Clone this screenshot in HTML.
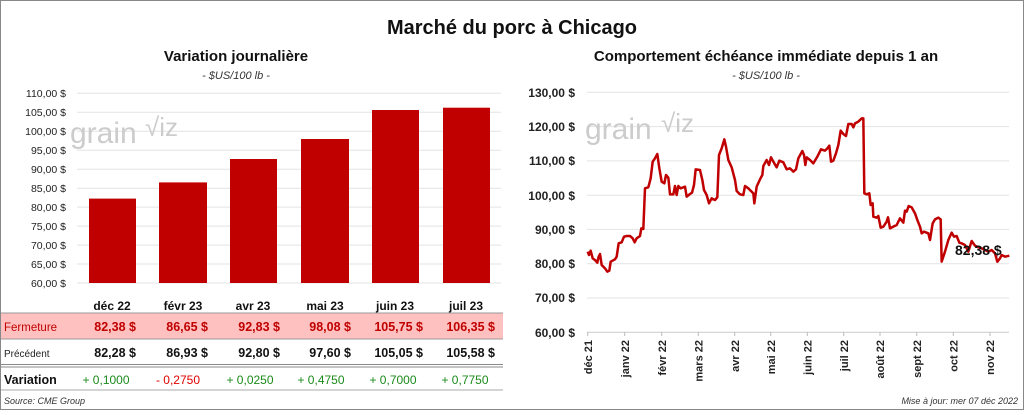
<!DOCTYPE html>
<html><head><meta charset="utf-8"><style>
body{margin:0;width:1024px;height:410px;overflow:hidden;background:#fff;font-family:"Liberation Sans",sans-serif}
</style></head><body>
<svg width="1024" height="410" xmlns="http://www.w3.org/2000/svg" font-family="Liberation Sans, sans-serif">
<rect x="0.5" y="0.5" width="1023" height="409" fill="#fff" stroke="#888"/>
<text x="512" y="34" font-size="20" font-weight="bold" text-anchor="middle" fill="#111">Marché du porc à Chicago</text>
<text x="236" y="61" font-size="15" font-weight="bold" text-anchor="middle" fill="#111">Variation  journalière</text>
<text x="236" y="79" font-size="11" font-style="italic" text-anchor="middle" fill="#333">- $US/100 lb -</text>
<text x="766" y="61" font-size="15" font-weight="bold" text-anchor="middle" fill="#111">Comportement  échéance immédiate depuis 1 an</text>
<text x="766" y="79" font-size="11" font-style="italic" text-anchor="middle" fill="#333">- $US/100 lb -</text>
<!-- left grid -->
<g stroke="#e3e3e3" stroke-width="1">
<line x1="77" x2="501" y1="93.3" y2="93.3"/><line x1="77" x2="501" y1="112.3" y2="112.3"/><line x1="77" x2="501" y1="131.2" y2="131.2"/><line x1="77" x2="501" y1="150.2" y2="150.2"/><line x1="77" x2="501" y1="169.2" y2="169.2"/><line x1="77" x2="501" y1="188.2" y2="188.2"/><line x1="77" x2="501" y1="207.1" y2="207.1"/><line x1="77" x2="501" y1="226.1" y2="226.1"/><line x1="77" x2="501" y1="245.1" y2="245.1"/><line x1="77" x2="501" y1="264" y2="264"/><line x1="77" x2="501" y1="283" y2="283"/>
</g>
<g font-size="10.5" text-anchor="end" fill="#222">
<text x="66" y="97">110,00 $</text><text x="66" y="116">105,00 $</text><text x="66" y="135">100,00 $</text><text x="66" y="154">95,00 $</text><text x="66" y="173">90,00 $</text><text x="66" y="192">85,00 $</text><text x="66" y="211">80,00 $</text><text x="66" y="230">75,00 $</text><text x="66" y="249">70,00 $</text><text x="66" y="268">65,00 $</text><text x="66" y="287">60,00 $</text>
</g>
<text x="70" y="143" font-size="30" fill="#ccc">grain</text><text x="145" y="136" font-size="26" fill="#ccc">√iz</text>
<g fill="#c00000">
<rect x="89" y="198.6" width="47" height="84.4"/><rect x="159" y="182.4" width="48" height="100.6"/><rect x="230" y="159" width="47" height="124"/><rect x="301" y="139" width="48" height="144"/><rect x="372" y="110" width="47" height="173"/><rect x="443" y="107.7" width="47" height="175.3"/>
</g>
<!-- table -->
<g font-size="12" font-weight="bold" text-anchor="middle" fill="#111">
<text x="112" y="310">déc 22</text><text x="183" y="310">févr 23</text><text x="253" y="310">avr 23</text><text x="325" y="310">mai 23</text><text x="395" y="310">juin 23</text><text x="466" y="310">juil 23</text>
</g>
<rect x="1" y="313" width="502" height="26" fill="#ffc0c0"/>
<line x1="1" x2="503" y1="313" y2="313" stroke="#999"/><line x1="1" x2="503" y1="339" y2="339" stroke="#999"/>
<line x1="1" x2="503" y1="364.5" y2="364.5" stroke="#888"/><line x1="1" x2="503" y1="367" y2="367" stroke="#888"/>
<line x1="1" x2="503" y1="390" y2="390" stroke="#aaa"/>
<text x="4" y="331" font-size="11.5" fill="#c00000">Fermeture</text>
<g font-size="12.5" font-weight="bold" text-anchor="end" fill="#c00000">
<text x="136" y="331">82,38  $</text><text x="208" y="331">86,65  $</text><text x="280" y="331">92,83  $</text><text x="351" y="331">98,08  $</text><text x="423" y="331">105,75  $</text><text x="495" y="331">106,35  $</text>
</g>
<text x="4" y="357" font-size="10" fill="#222">Précédent</text>
<g font-size="12.5" font-weight="bold" text-anchor="end" fill="#111">
<text x="136" y="357">82,28  $</text><text x="208" y="357">86,93  $</text><text x="280" y="357">92,80  $</text><text x="351" y="357">97,60  $</text><text x="423" y="357">105,05  $</text><text x="495" y="357">105,58  $</text>
</g>
<text x="4" y="384" font-size="12.5" font-weight="bold" fill="#111">Variation</text>
<g font-size="12" text-anchor="middle" fill="#1a8a1a">
<text x="106" y="384">+ 0,1000</text><text x="178" y="384" fill="#e00000">- 0,2750</text><text x="250" y="384">+ 0,0250</text><text x="321" y="384">+ 0,4750</text><text x="393" y="384">+ 0,7000</text><text x="465" y="384">+ 0,7750</text>
</g>
<text x="4" y="404" font-size="9" font-style="italic" fill="#333">Source: CME Group</text>
<text x="1018" y="404" font-size="9" font-style="italic" fill="#333" text-anchor="end">Mise à jour: mer 07 déc 2022</text>
<!-- right chart -->
<g stroke="#e3e3e3">
<line x1="587" x2="1009" y1="92.3" y2="92.3"/><line x1="587" x2="1009" y1="126.6" y2="126.6"/><line x1="587" x2="1009" y1="160.9" y2="160.9"/><line x1="587" x2="1009" y1="195.2" y2="195.2"/><line x1="587" x2="1009" y1="229.4" y2="229.4"/><line x1="587" x2="1009" y1="263.7" y2="263.7"/><line x1="587" x2="1009" y1="298" y2="298"/>
</g>
<line x1="587" x2="1009" y1="332.3" y2="332.3" stroke="#ccc"/>
<g font-size="12" font-weight="bold" text-anchor="end" fill="#222">
<text x="575" y="97">130,00 $</text><text x="575" y="131">120,00 $</text><text x="575" y="165">110,00 $</text><text x="575" y="200">100,00 $</text><text x="575" y="234">90,00 $</text><text x="575" y="268">80,00 $</text><text x="575" y="302">70,00 $</text><text x="575" y="337">60,00 $</text>
</g>
<text x="585" y="139" font-size="30" fill="#ccc">grain</text><text x="661" y="132" font-size="26" fill="#ccc">√iz</text>
<g stroke="#bbb"><line x1="587.7" x2="587.7" y1="332" y2="336"/><line x1="624.7" x2="624.7" y1="332" y2="336"/><line x1="661.7" x2="661.7" y1="332" y2="336"/><line x1="698.3" x2="698.3" y1="332" y2="336"/><line x1="734.7" x2="734.7" y1="332" y2="336"/><line x1="770.7" x2="770.7" y1="332" y2="336"/><line x1="807.3" x2="807.3" y1="332" y2="336"/><line x1="843.7" x2="843.7" y1="332" y2="336"/><line x1="880" x2="880" y1="332" y2="336"/><line x1="916.7" x2="916.7" y1="332" y2="336"/><line x1="953.3" x2="953.3" y1="332" y2="336"/><line x1="990" x2="990" y1="332" y2="336"/></g>
<g font-size="11" font-weight="bold" fill="#222" text-anchor="end">
<text transform="translate(592,340) rotate(-90)">déc 21</text><text transform="translate(629,340) rotate(-90)">janv 22</text><text transform="translate(666,340) rotate(-90)">févr 22</text><text transform="translate(702.5,340) rotate(-90)">mars 22</text><text transform="translate(739,340) rotate(-90)">avr 22</text><text transform="translate(775,340) rotate(-90)">mai 22</text><text transform="translate(811.5,340) rotate(-90)">juin 22</text><text transform="translate(848,340) rotate(-90)">juil 22</text><text transform="translate(884,340) rotate(-90)">août 22</text><text transform="translate(921,340) rotate(-90)">sept 22</text><text transform="translate(957.5,340) rotate(-90)">oct 22</text><text transform="translate(994,340) rotate(-90)">nov 22</text>
</g>
<g transform="translate(520,80) scale(0.33333)">
<polyline fill="none" stroke="#c00000" stroke-width="7.5" stroke-linejoin="round" points="203,515 207,525 212,512 218,535 225,540 232,548 236,530 240,522 245,555 255,565 262,575 268,572 272,545 285,538 290,530 296,490 305,487 312,470 320,468 330,468 338,475 344,487 350,475 360,468 364,445 370,447 375,325 385,322 392,295 398,245 405,235 412,222 418,265 425,305 433,310 438,285 445,293 450,343 460,343 465,318 470,345 475,318 482,325 495,320 500,350 510,342 516,338 522,315 527,268 540,270 547,300 552,330 560,345 567,370 575,355 585,360 592,352 597,225 605,205 613,178 618,200 625,240 635,262 645,300 650,333 660,343 670,345 675,318 685,325 700,340 703,370 710,320 720,298 727,285 730,258 740,240 747,255 753,232 760,245 770,262 778,242 790,247 800,268 810,265 820,275 828,268 835,235 847,213 852,225 856,255 860,232 870,240 880,250 892,230 903,208 915,212 922,205 928,197 933,245 940,242 948,220 955,195 962,152 970,162 978,168 985,132 995,132 1000,142 1005,130 1015,125 1025,115 1030,115 1033,340 1040,343 1048,340 1052,375 1058,370 1060,410 1070,413 1075,408 1082,443 1090,440 1100,425 1104,412 1110,445 1120,440 1130,435 1140,415 1150,428 1155,392 1160,395 1166,378 1175,382 1185,400 1192,420 1200,440 1205,460 1212,455 1225,460 1230,480 1238,430 1245,418 1255,413 1262,418 1265,545 1275,515 1285,480 1295,458 1302,470 1310,468 1318,488 1325,490 1335,495 1345,515 1355,483 1365,497 1375,502 1385,505 1395,510 1405,515 1415,510 1425,520 1432,545 1440,535 1445,525 1455,530 1468,527"/>
</g>
<text x="955" y="255" font-size="14" font-weight="bold" fill="#111">82,38 $</text>
</svg>
</body></html>
